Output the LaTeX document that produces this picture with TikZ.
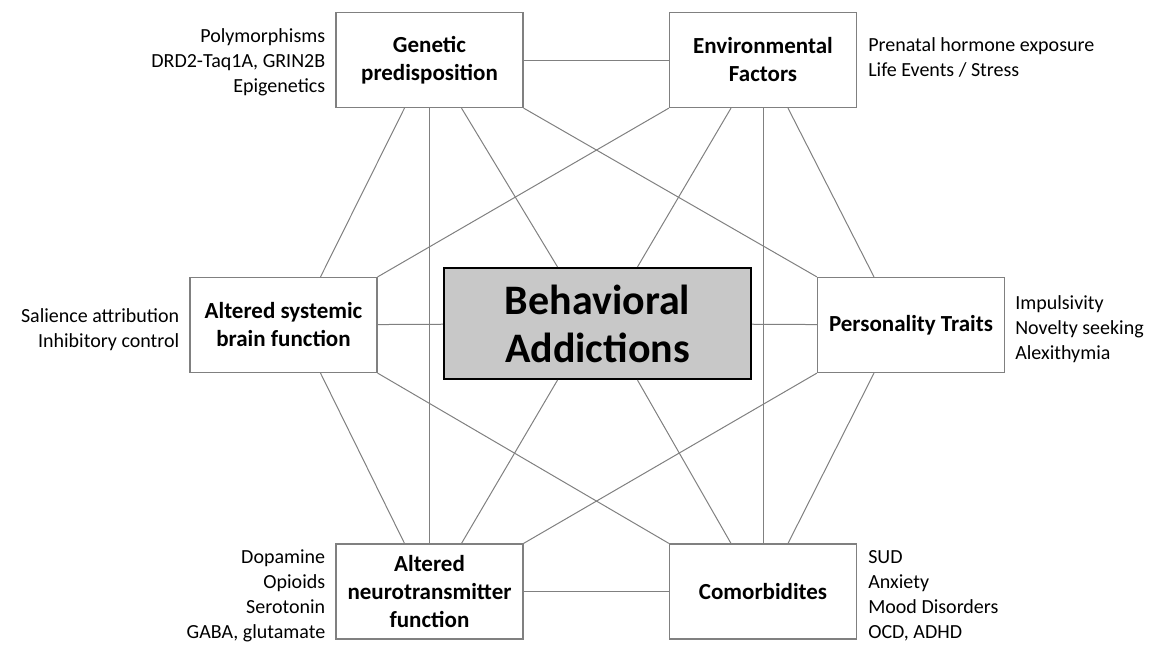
\documentclass[tikz,border=0pt]{standalone}
\usepackage{fontspec}
\setmainfont{Carlito}
\usetikzlibrary{positioning}
\definecolor{linegray}{RGB}{128,128,128}
\definecolor{boxgray}{RGB}{200,200,200}
\begin{document}
\begin{tikzpicture}[x=1pt, y=-1pt,
    factor/.style={draw=linegray, line width=1.2pt, fill=white, minimum width=187pt,
      minimum height=95pt, inner sep=0pt, align=center,
      font=\fontsize{23}{28}\selectfont\bfseries},
    core/.style={draw=black, line width=2.2pt, fill=boxgray, minimum width=307pt,
      minimum height=111pt, inner sep=0pt, align=center,
      font=\fontsize{42}{48}\selectfont\bfseries},
    link/.style={draw=linegray, line width=1pt},
    note/.style={inner sep=0pt, font=\fontsize{20}{25}\selectfont}]
    \useasboundingbox (0,0) rectangle (1156,645);
    % Offsets along the box edges
    \def\dout{25pt}   % outer line on gen/env/neuro/comor
    \def\din{32pt}    % inner line to the core
    \def\dside{37pt}  % line on brain/pers
    \def\dcore{40pt}  % line on the core
    % Boxes
    \node[factor] (gen) at (429.5,60) {Genetic\\predisposition};
    \node[factor] (env) at (763,60) {Environmental\\Factors};
    \node[factor] (brain) at (283.5,325) {Altered systemic\\brain function};
    \node[core] (add) at (597.5,323.5) {Behavioral\\Addictions};
    \node[factor] (pers) at (911,325) {Personality Traits};
    \node[factor] (neuro) at (429.5,591.5) {Altered\\neurotransmitter\\function};
    \node[factor] (comor) at (763,591.5) {Comorbidites};
    % Side notes
    \node[note, align=right, left=10pt of gen, yshift=-2pt] (gennote)
      {Polymorphisms\\DRD2-Taq1A, GRIN2B\\Epigenetics};
    \node[note, align=left, right=11pt of env, yshift=3pt] (envnote)
      {Prenatal hormone exposure\\Life Events / Stress};
    \node[note, align=right, left=10pt of brain, yshift=-5pt] (brainnote)
      {Salience attribution\\Inhibitory control};
    \node[note, align=left, right=10pt of pers, yshift=-4pt] (persnote)
      {Impulsivity\\Novelty seeking\\Alexithymia};
    \node[note, align=right, left=10pt of neuro, yshift=-4pt] (neuronote)
      {Dopamine\\Opioids\\Serotonin\\GABA, glutamate};
    \node[note, align=left, right=11pt of comor, yshift=-4pt] (comornote)
      {SUD\\Anxiety\\Mood Disorders\\OCD, ADHD};
    % Links
    \draw[link] (gen) -- (env);
    \draw[link] (brain) -- (add);
    \draw[link] (add) -- (pers);
    \draw[link] (neuro) -- (comor);
    \draw[link] (gen.south) -- (neuro.north);
    \draw[link] (env.south) -- (comor.north);
    \draw[link] (gen.south east) -- (pers.north west);
    \draw[link] (env.south west) -- (brain.north east);
    \draw[link] (brain.south east) -- (comor.north west);
    \draw[link] (pers.south west) -- (neuro.north east);
    \draw[link] ([xshift=-\dout]gen.south) -- ([xshift=\dside]brain.north);
    \draw[link] ([xshift=\din]gen.south) -- ([xshift=-\dcore]add.north);
    \draw[link] ([xshift=-\din]env.south) -- ([xshift=\dcore]add.north);
    \draw[link] ([xshift=\dout]env.south) -- ([xshift=-\dside]pers.north);
    \draw[link] ([xshift=\dside]brain.south) -- ([xshift=-\dout]neuro.north);
    \draw[link] ([xshift=-\dcore]add.south) -- ([xshift=\din]neuro.north);
    \draw[link] ([xshift=\dcore]add.south) -- ([xshift=-\din]comor.north);
    \draw[link] ([xshift=-\dside]pers.south) -- ([xshift=\dout]comor.north);
\end{tikzpicture}
\end{document}
